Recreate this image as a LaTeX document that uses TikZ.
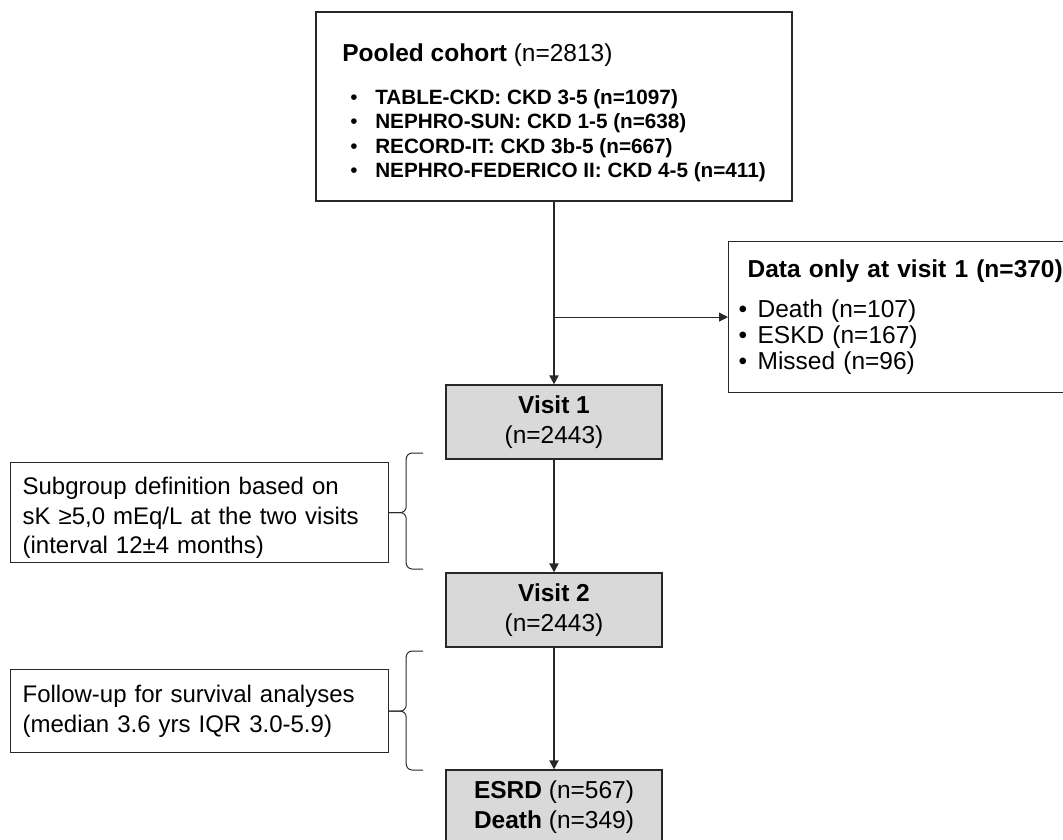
\documentclass[tikz,border=0pt]{standalone}
\usepackage{fontspec}
\setmainfont{Liberation Sans}
\usepackage{tikz}
\usetikzlibrary{arrows.meta,positioning,calc}
\definecolor{flowgray}{RGB}{217,217,217}
\definecolor{flowline}{RGB}{40,40,40}
\newcommand{\bigtxt}{\fontsize{24.5}{29.5}\selectfont}
\newcommand{\sidetxt}{\fontsize{24}{29.5}\selectfont}
\newcommand{\smalltxt}{\fontsize{20.7}{24.2}\selectfont}

\begin{document}
\begin{tikzpicture}[x=1pt,y=-1pt,>={Triangle[length=9pt,width=9pt]},
    box/.style={draw=flowline,line width=1.2pt,inner sep=0pt},
    visitbox/.style={box,fill=flowgray,minimum width=216,minimum height=74,align=center,font=\bigtxt},
    sidebox/.style={box,anchor=north west,text width=354,inner xsep=12,align=left,font=\sidetxt},
    mainarr/.style={->,flowline,line width=1.8pt},
    sidearr/.style={->,flowline,line width=1pt},
    brace/.style={flowline,line width=1pt,rounded corners=6pt}]
    \useasboundingbox (0,0) rectangle (1063,840);

    % Pooled cohort
    \node[box,minimum width=476,minimum height=189,align=left,font=\smalltxt] (pool) at (554,106.5)
        {{\bigtxt\rule{0pt}{30pt}\textbf{Pooled cohort} (n=2813)}\\[19pt]
         \hspace*{8pt}\makebox[25pt][l]{\textbullet}\textbf{TABLE-CKD: CKD 3-5 (n=1097)}\\
         \hspace*{8pt}\makebox[25pt][l]{\textbullet}\textbf{NEPHRO-SUN: CKD 1-5 (n=638)}\\
         \hspace*{8pt}\makebox[25pt][l]{\textbullet}\textbf{RECORD-IT: CKD 3b-5 (n=667)}\\
         \hspace*{8pt}\makebox[25pt][l]{\textbullet}\textbf{NEPHRO-FEDERICO II: CKD 4-5 (n=411)}};

    % Excluded after visit 1
    \node[box,anchor=north west,text width=330,inner xsep=10,minimum height=151,align=left,
          font=\fontsize{24.5}{26}\selectfont] (data) at (728,241)
        {\hspace*{9pt}\textbf{Data only at visit 1 (n=370)}\\[14pt]
         \makebox[19pt][l]{\textbullet}Death (n=107)\\
         \makebox[19pt][l]{\textbullet}ESKD (n=167)\\
         \makebox[19pt][l]{\textbullet}Missed (n=96)};

    % Visits and outcomes
    \node[visitbox] (visit1) at (554,422) {\textbf{Visit 1}\\(n=2443)};
    \node[visitbox] (visit2) at (554,610) {\textbf{Visit 2}\\(n=2443)};
    \node[visitbox] (esrd) at (554,807) {\textbf{ESRD} (n=567)\\\textbf{Death} (n=349)};

    % Side notes
    \node[sidebox,minimum height=100] (subgrp) at (10,462)
        {\rule{0pt}{28pt}Subgroup definition based on\\sK ≥5,0 mEq/L at the two visits\\(interval 12±4 months)};
    \node[sidebox,minimum height=83] (follow) at (10,669)
        {\rule{0pt}{17pt}Follow-up for survival analyses\\(median 3.6 yrs IQR 3.0-5.9)};

    % Arrows
    \coordinate (split) at (visit1.north |- data.west);
    \draw[mainarr] (pool) -- (visit1);
    \draw[sidearr] (split) -- (data.west);
    \draw[mainarr] (visit1) -- (visit2);
    \draw[mainarr] (visit2) -- (esrd);

    % Braces
    \draw[brace] (subgrp.east) -- ++(17,0) |- (423,453);
    \draw[brace] (subgrp.east) -- ++(17,0) |- (423,569);
    \draw[brace] (follow.east) -- ++(17,0) |- (423,651);
    \draw[brace] (follow.east) -- ++(17,0) |- (423,770);
\end{tikzpicture}
\end{document}
